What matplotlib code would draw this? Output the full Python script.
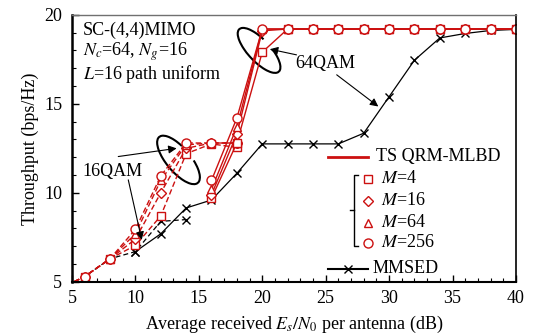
import matplotlib.pyplot as plt
from matplotlib.patches import Arc
from matplotlib.transforms import ScaledTranslation

plt.rcParams['font.family'] = ['Liberation Serif', 'DejaVu Serif']
plt.rcParams['mathtext.fontset'] = 'stix'
plt.rcParams['font.size'] = 13

# 16QAM (dashed)
snr_16 = [4, 6, 8, 10, 12, 14, 16, 18]
qam16_m4 = [4.6, 5.3, 6.3, 7.05, 8.7, 12.2, 12.75, 12.55]
qam16_m16 = [4.6, 5.3, 6.3, 7.4, 10.0, 12.5, 12.8, 12.8]
qam16_m64 = [4.6, 5.3, 6.3, 7.7, 10.7, 12.7, 12.8, 12.8]
qam16_m256 = [4.6, 5.3, 6.3, 7.95, 10.95, 12.8, 12.8, 12.8]
snr_16_mmse = [4, 6, 8, 10, 12, 14]
mmse_16 = [4.6, 5.3, 6.3, 6.7, 8.4, 8.5]

# 64QAM (solid)
snr_64 = [16, 18, 20, 22, 24, 26, 28, 30, 32, 34, 36, 38, 40]
qam64_m4 = [9.7, 12.8, 17.9, 19.2, 19.2, 19.2, 19.2, 19.2, 19.2, 19.2, 19.2, 19.2, 19.2]
qam64_m16 = [9.9, 13.3, 19.1, 19.2, 19.2, 19.2, 19.2, 19.2, 19.2, 19.2, 19.2, 19.2, 19.2]
qam64_m64 = [10.2, 13.7, 19.2, 19.2, 19.2, 19.2, 19.2, 19.2, 19.2, 19.2, 19.2, 19.2, 19.2]
qam64_m256 = [10.7, 14.2, 19.2, 19.2, 19.2, 19.2, 19.2, 19.2, 19.2, 19.2, 19.2, 19.2, 19.2]
snr_64_mmse = [10, 12, 14, 16, 18, 20, 22, 24, 26, 28, 30, 32, 34, 36, 38, 40]
mmse_64 = [6.7, 7.7, 9.15, 9.6, 11.1, 12.75, 12.75, 12.75, 12.75, 13.35, 15.4, 17.45, 18.7, 18.95, 19.12, 19.18]

red = '#cc1010'
markers = ['s', 'D', '^', 'o']
msizes = [6, 5, 6, 6.5]
m_labels = ['$M$=4', '$M$=16', '$M$=64', '$M$=256']

fig = plt.figure(figsize=(5.33, 3.36), dpi=100)
ax = fig.add_axes([0.135, 0.161, 0.833, 0.795])

# MMSED
ax.plot(snr_16_mmse, mmse_16, color='black', ls=(0, (4, 2.5)), lw=0.9,
        marker='x', ms=6, mew=1)
ax.plot(snr_64_mmse, mmse_64, color='black', lw=0.9, marker='x', ms=6, mew=1)

# TS QRM-MLBD
for ys, mk, ms in zip([qam16_m4, qam16_m16, qam16_m64, qam16_m256], markers, msizes):
    ax.plot(snr_16, ys, color=red, ls=(0, (4, 2)), lw=1.0, marker=mk, ms=ms,
            mfc='white', mec=red, mew=1.0)
for ys, mk, ms in zip([qam64_m4, qam64_m16, qam64_m64, qam64_m256], markers, msizes):
    ax.plot(snr_64, ys, color=red, lw=1.0, marker=mk, ms=ms,
            mfc='white', mec=red, mew=1.0)

ax.set_xlim(5, 40)
ax.set_ylim(5, 20)
ax.set_xticks(range(5, 41, 5))
ax.set_xticks(range(5, 41), minor=True)
ax.set_yticks(range(5, 21, 5))
ax.set_yticks(range(5, 21), minor=True)
ax.tick_params(which='both', direction='in', top=False, right=False)
ax.tick_params(which='major', length=5, width=1)
ax.tick_params(which='minor', length=3, width=0.8)
ax.tick_params(axis='x', pad=6)
ax.tick_params(axis='y', pad=7)
ax.spines['left'].set_linewidth(1.8)
ax.spines['bottom'].set_linewidth(1.5)
ax.spines['right'].set_linewidth(1.2)
ax.spines['top'].set_color('#707070')
ax.spines['top'].set_linewidth(1.0)

ax.set_xlabel('Average received $E_s/N_0$ per antenna (dB)', labelpad=5)
ax.set_ylabel('Throughput (bps/Hz)', labelpad=4)

# condition text
ax.text(0.025, 0.94, 'SC-(4,4)MIMO', transform=ax.transAxes, va='center')
ax.text(0.025, 0.86, '$N_c$=64, $N_g$=16', transform=ax.transAxes, va='center')
ax.text(0.025, 0.78, '$L$=16 path uniform', transform=ax.transAxes, va='center')

# ellipses and arrows
def ring(cx, cy, w, h, ang, t1, t2):
    tr = fig.dpi_scale_trans + ScaledTranslation(cx, cy, ax.transData)
    ax.add_patch(Arc((0, 0), w, h, angle=ang, theta1=t1, theta2=t2,
                     transform=tr, color='black', lw=1.5, clip_on=False))

ring(13.4, 11.85, 0.6, 0.24, -50, 126, 48)
ring(19.75, 18.0, 0.58, 0.22, -47, 115, 50)

arr = dict(arrowstyle='-|>', color='black', lw=0.8, mutation_scale=12, shrinkA=0, shrinkB=0)
ax.text(8.2, 11.18, '16QAM', ha='center', va='center')
ax.annotate('', xy=(13.25, 12.5), xytext=(8.65, 12.04), arrowprops=arr)
ax.annotate('', xy=(10.5, 7.36), xytext=(9.44, 10.73), arrowprops=arr)
ax.text(25.0, 17.25, '64QAM', ha='center', va='center')
ax.annotate('', xy=(20.6, 18.07), xytext=(22.7, 17.75), arrowprops=arr)
ax.annotate('', xy=(29.15, 14.85), xytext=(25.87, 16.63), arrowprops=arr)

# legend drawn by hand
tA = ax.transAxes
ax.plot([0.577, 0.667], [0.468, 0.468], color=red, lw=2, transform=tA)
ax.text(0.685, 0.468, 'TS QRM-MLBD', transform=tA, va='center')
for yy, mk, ms, lab in zip([0.386, 0.303, 0.221, 0.146], markers, msizes, m_labels):
    ax.plot([0.667], [yy], marker=mk, ms=ms, mfc='white', mec=red, mew=1.0,
            ls='none', transform=tA)
    ax.text(0.695, yy, lab, transform=tA, va='center')
ax.plot([0.644, 0.635, 0.635, 0.644], [0.401, 0.401, 0.135, 0.135],
        color='black', lw=1, transform=tA)
ax.plot([0.626, 0.635], [0.270, 0.270], color='black', lw=1, transform=tA)
ax.plot([0.577, 0.667], [0.049, 0.049], color='black', lw=1.5, transform=tA)
ax.plot([0.622], [0.049], marker='x', ms=6, mew=1, color='black', transform=tA)
ax.text(0.678, 0.049, 'MMSED', transform=tA, va='center')

plt.savefig('out.png', dpi=100)
